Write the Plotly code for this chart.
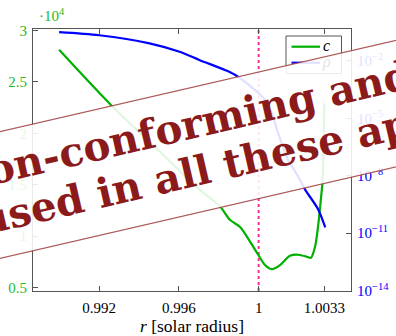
import math
import plotly.graph_objects as go

# ---------------- data ----------------
r_c = [0.99000, 0.99262, 0.99500, 0.99705, 0.99806, 0.99856, 0.99907, 0.99956,
       0.99998, 1.00032, 1.00065, 1.00107, 1.00157, 1.00199, 1.00242, 1.00262,
       1.00283, 1.00300, 1.00313, 1.00321, 1.00329]
c_vals = [28100, 22700, 18300, 14500, 12900, 11600, 10900, 9500,
          8200, 7200, 6800, 7200, 8100, 8200, 8000, 7900,
          9000, 11300, 13800, 15500, 22900]

r_rho = [0.99000, 0.99201, 0.99453, 0.99604, 0.99705, 0.99831, 0.99881, 0.99981,
         1.00032, 1.00065, 1.00097, 1.00147, 1.00198, 1.00233, 1.00298, 1.00334]
rho_vals = [3.2e-1, 2.2e-1, 8.3e-2, 3.0e-2, 1.1e-2, 3.4e-3, 1.9e-3, 3.1e-4,
            9.3e-5, 2.0e-5, 1.8e-6, 7.1e-8, 9.3e-9, 1.9e-9, 1.8e-10, 2.0e-11]

r_surface = 1.0

x_ticks = [0.992, 0.996, 1.0, 1.0033]
x_tick_labels = ["0.992", "0.996", "1", "1.0033"]
c_ticks = [5000, 10000, 15000, 20000, 25000, 30000]
c_tick_labels = ["0.5", "1", "1.5", "2", "2.5", "3"]
rho_ticks = [1e-14, 1e-11, 1e-8, 1e-5, 1e-2]
rho_tick_labels = ["10<sup>−14</sup>", "10<sup>−11</sup>", "10<sup>−8</sup>",
                   "10<sup>−5</sup>", "10<sup>−2</sup>"]

banner_line1 = "non-conforming and"
banner_line2 = "used in all these ap"

# ---------------- layout geometry / styles ----------------
W, H = 396, 336
ML, MR, MT, MB = 33, 45, 29, 45
PW, PH = W - ML - MR, H - MT - MB

def px(x):
    return (x - ML) / PW

def py(y):
    return (H - MB - y) / PH

GREEN = "#00b000"
GREEN_LBL = "#22bb22"
BLUE = "#0000ff"
AXC = "#555555"
DARKRED = "#8b1a1a"
SERIF = "Liberation Serif, Times New Roman, DejaVu Serif, serif"

fig = go.Figure()

fig.add_trace(go.Scatter(x=r_c, y=c_vals, mode="lines", name="c",
                         line=dict(color=GREEN, width=2.2, shape="spline", smoothing=0.8),
                         xaxis="x", yaxis="y", showlegend=False))
fig.add_trace(go.Scatter(x=r_rho, y=rho_vals, mode="lines", name="ρ",
                         line=dict(color=BLUE, width=2.2, shape="spline", smoothing=0.8),
                         xaxis="x", yaxis="y2", showlegend=False))

# legend labels (drawn under the banner, like the reference)
leg_x_text = px(323)
fig.add_trace(go.Scatter(x=[leg_x_text, leg_x_text], y=[py(46.5), py(62.5)],
                         mode="text", text=["<i>c</i>", "<i>ρ</i>"],
                         textposition="middle right",
                         textfont=dict(family=SERIF, size=16, color="black"),
                         xaxis="x2", yaxis="y3", showlegend=False, hoverinfo="skip"))

axis_common = dict(showgrid=False, zeroline=False, showline=True, linecolor=AXC,
                   linewidth=1, ticks="inside", ticklen=5, tickcolor=AXC, tickwidth=1,
                   automargin=False)

fig.update_layout(
    width=W, height=H,
    margin=dict(l=ML, r=MR, t=MT, b=MB, pad=0, autoexpand=False),
    paper_bgcolor="white", plot_bgcolor="white",
    showlegend=False,
    xaxis=dict(range=[0.98869, 1.00463], tickvals=x_ticks, ticktext=x_tick_labels,
               mirror="ticks", tickfont=dict(family=SERIF, size=15, color="black"),
               ticklabelstandoff=3,
               title=dict(text="<i>r</i> [solar radius]",
                          font=dict(family=SERIF, size=17.5, color="black"), standoff=9),
               **axis_common),
    yaxis=dict(range=[4680, 30126], tickvals=c_ticks, ticktext=c_tick_labels,
               ticklabelstandoff=2,
               tickfont=dict(family=SERIF, size=15, color=GREEN_LBL), **axis_common),
    yaxis2=dict(type="log", range=[-14.02, -0.33], tickvals=rho_ticks,
                ticktext=rho_tick_labels, overlaying="y", side="right", anchor="x",
                ticklabelstandoff=2,
                tickfont=dict(family=SERIF, size=15, color=BLUE), **axis_common),
    xaxis2=dict(overlaying="x", range=[0, 1], visible=False, fixedrange=True),
    yaxis3=dict(overlaying="y", range=[0, 1], visible=False, fixedrange=True, anchor="x2"),
)

shapes = []
# surface line r = 1
shapes.append(dict(type="line", xref="x", yref="paper", x0=r_surface, x1=r_surface,
                   y0=0, y1=1, line=dict(color="#ff2a9e", width=2, dash="dot"),
                   layer="below"))
# legend box
shapes.append(dict(type="rect", xref="paper", yref="paper",
                   x0=px(286), x1=px(341.5), y0=py(73.5), y1=py(36),
                   fillcolor="white", line=dict(color=AXC, width=1), layer="below"))
shapes.append(dict(type="line", xref="paper", yref="paper", x0=px(291.5), x1=px(320),
                   y0=py(46.7), y1=py(46.7), line=dict(color=GREEN, width=2.2), layer="above"))
shapes.append(dict(type="line", xref="paper", yref="paper", x0=px(291.5), x1=px(320),
                   y0=py(62.7), y1=py(62.7), line=dict(color=BLUE, width=2.2), layer="above"))

# banner (rotated band)
t = math.tan(math.radians(13))
def up(x):
    return 131.7 - t * x
def lo(x):
    return 258.3 - t * x
xa, xb = -40, 440
pts = [(xa, up(xa)), (xb, up(xb)), (xb, lo(xb)), (xa, lo(xa))]
path = "M " + " L ".join(f"{px(x):.5f},{py(y):.5f}" for x, y in pts) + " Z"
shapes.append(dict(type="path", xref="paper", yref="paper", path=path,
                   fillcolor="rgba(255,255,255,0.88)",
                   line=dict(color="rgba(160,60,60,0.85)", width=1.2), layer="above"))
fig.update_layout(shapes=shapes)

# annotations
fig.add_annotation(x=px(37), y=py(15), xref="paper", yref="paper", showarrow=False,
                   text="·10<sup>4</sup>", xanchor="left", yanchor="middle",
                   font=dict(family=SERIF, size=15, color=GREEN_LBL))
bfont = dict(family="DejaVu Serif", size=40.5, color=DARKRED, weight="bold")
fig.add_annotation(x=px(185), y=py(126), xref="paper", yref="paper",
                   showarrow=False, text=banner_line1, textangle=-13,
                   xanchor="center", yanchor="middle", font=bfont)
fig.add_annotation(x=px(194.7), y=py(172), xref="paper", yref="paper", showarrow=False,
                   text=banner_line2, textangle=-13, xanchor="center", yanchor="middle",
                   font=bfont)

# remove the browser's default page margin so the figure sits at the window origin
fig.write_html("out.html", config={"displayModeBar": False},
               post_script="document.body.style.margin='0px';")
